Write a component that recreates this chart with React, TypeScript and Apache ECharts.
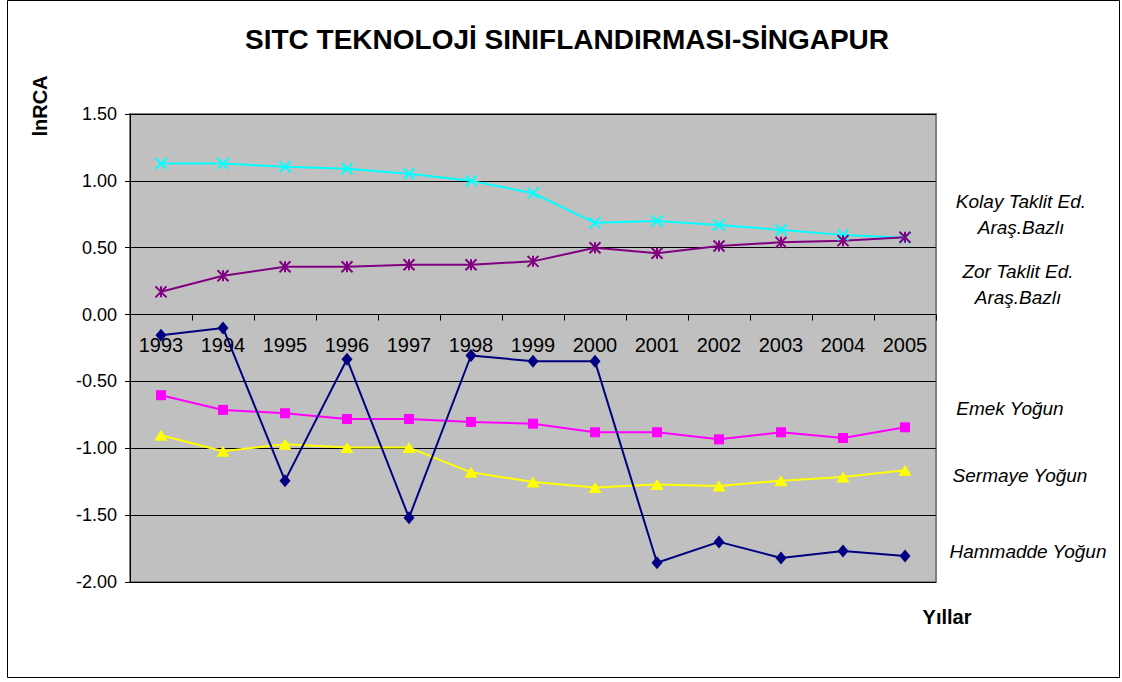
import React, { useEffect, useRef } from "react";
import * as echarts from "echarts";

const years = ["1993", "1994", "1995", "1996", "1997", "1998", "1999", "2000", "2001", "2002", "2003", "2004", "2005"];
const kolay = [1.13, 1.13, 1.105, 1.09, 1.053, 1.0, 0.908, 0.686, 0.7, 0.67, 0.633, 0.596, 0.575];
const zor = [0.17, 0.29, 0.358, 0.358, 0.373, 0.373, 0.398, 0.5, 0.458, 0.513, 0.54, 0.553, 0.578];
const emek = [-0.603, -0.713, -0.738, -0.781, -0.781, -0.803, -0.816, -0.88, -0.88, -0.933, -0.88, -0.923, -0.843];
const sermaye = [-0.903, -1.022, -0.97, -0.995, -0.995, -1.18, -1.252, -1.294, -1.27, -1.282, -1.242, -1.215, -1.165];
const hammadde = [-0.154, -0.1, -1.242, -0.334, -1.519, -0.306, -0.349, -0.35, -1.856, -1.7, -1.82, -1.769, -1.806];

const seriesNames = [
  "Kolay Taklit Ed. Araş.Bazlı",
  "Zor Taklit Ed. Araş.Bazlı",
  "Emek Yoğun",
  "Sermaye Yoğun",
  "Hammadde Yoğun",
];
const legendLabels = [
  "Kolay Taklit Ed.\nAraş.Bazlı",
  "Zor Taklit Ed.\nAraş.Bazlı",
  "Emek Yoğun",
  "Sermaye Yoğun",
  "Hammadde Yoğun",
];
const yTicks = { min: -2, max: 1.5, interval: 0.5 };
const titleText = "SITC TEKNOLOJİ SINIFLANDIRMASI-SİNGAPUR";
const yName = "lnRCA";
const xName = "Yıllar";

const FONT = "'Liberation Sans', Arial, Helvetica, sans-serif";

export default function App() {
  const ref = useRef<HTMLDivElement>(null);
  useEffect(() => {
    if (!ref.current) return;
    const chart = echarts.init(ref.current, null, { renderer: "svg" });
    const gridTop = 114;
    const gridBottom = 100;
    const chartH = 682;
    const plotH = chartH - gridTop - gridBottom;
    // move the category axis up to the zero line of the value axis
    const zeroOffset = -plotH * (0 - yTicks.min) / (yTicks.max - yTicks.min);
    const legendTops = [188, 258, 395, 462, 538];
    const legendCenters = [1021, 1018, 1010, 1020, 1028];
    const boxW = 180;
    const legends = seriesNames.map((name, i) => ({
      data: [name],
      left: legendCenters[i] - boxW / 2 - 5,
      top: legendTops[i],
      icon: "none",
      itemWidth: 0,
      itemHeight: 0,
      selectedMode: false,
      padding: 0,
      formatter: () =>
        legendLabels[i]
          .split("\n")
          .map((l) => `{c|${l}}`)
          .join("\n"),
      textStyle: {
        fontFamily: FONT,
        fontStyle: "italic",
        fontSize: 19,
        color: "#000",
        rich: {
          c: {
            width: boxW,
            align: "center",
            fontFamily: FONT,
            fontStyle: "italic",
            fontSize: 19,
            lineHeight: 26,
            color: "#000",
            height: 26,
          },
        },
      },
    }));
    const crossPath = "path://M0,0L10,10M10,0L0,10";
    const starPath = "path://M0,0L10,10M10,0L0,10M5,0L5,10";
    chart.setOption({
      animation: false,
      backgroundColor: "#fff",
      title: {
        text: titleText,
        left: 562,
        textAlign: "center",
        top: 20,
        textStyle: { fontFamily: FONT, fontWeight: "bold", fontSize: 28, color: "#000" },
      },
      legend: legends,
      grid: {
        left: 130,
        right: 186,
        top: gridTop,
        bottom: gridBottom,
        show: true,
        backgroundColor: "#C0C0C0",
        borderColor: "#808080",
        borderWidth: 2,
      },
      xAxis: {
        type: "category",
        data: years,
        boundaryGap: true,
        position: "bottom",
        offset: zeroOffset,
        axisLine: { onZero: false, lineStyle: { color: "#000", width: 1 } },
        axisTick: { show: true, length: 6, lineStyle: { color: "#000" } },
        axisLabel: { fontFamily: FONT, fontSize: 20, color: "#000", margin: 20, interval: 0 },
        splitLine: { show: false },
        z: 3,
      },
      yAxis: {
        type: "value",
        min: yTicks.min,
        max: yTicks.max,
        interval: yTicks.interval,
        axisLine: { show: true, lineStyle: { color: "#000", width: 1 } },
        axisTick: { show: true, length: 5, lineStyle: { color: "#000" } },
        axisLabel: {
          fontFamily: FONT,
          fontSize: 18,
          color: "#000",
          margin: 13,
          formatter: (v: number) => v.toFixed(2),
        },
        splitLine: { show: true, lineStyle: { color: "#000", width: 1 } },
      },
      graphic: [
        {
          type: "rect",
          shape: { x: 7.5, y: 0.5, width: 1112, height: 677 },
          style: { fill: "none", stroke: "#000", lineWidth: 1 },
          silent: true,
          z: -1,
        },
        {
          type: "text",
          x: 40,
          y: 106,
          rotation: Math.PI / 2,
          style: {
            text: yName,
            fontFamily: FONT,
            fontWeight: "bold",
            fontSize: 20,
            fill: "#000",
            align: "center",
            verticalAlign: "middle",
          },
        },
        {
          type: "text",
          x: 947,
          y: 617,
          style: {
            text: xName,
            fontFamily: FONT,
            fontWeight: "bold",
            fontSize: 20,
            fill: "#000",
            align: "center",
            verticalAlign: "middle",
          },
        },
      ],
      series: [
        {
          name: seriesNames[0],
          type: "line",
          data: kolay,
          symbol: crossPath,
          symbolSize: 11,
          lineStyle: { color: "#00FFFF", width: 2 },
          itemStyle: { color: "#00FFFF", borderColor: "#00FFFF", borderWidth: 2 },
        },
        {
          name: seriesNames[1],
          type: "line",
          data: zor,
          symbol: starPath,
          symbolSize: 11,
          lineStyle: { color: "#800080", width: 2 },
          itemStyle: { color: "#800080", borderColor: "#800080", borderWidth: 2 },
        },
        {
          name: seriesNames[2],
          type: "line",
          data: emek,
          symbol: "rect",
          symbolSize: 10,
          lineStyle: { color: "#FF00FF", width: 2 },
          itemStyle: { color: "#FF00FF", borderWidth: 0 },
        },
        {
          name: seriesNames[3],
          type: "line",
          data: sermaye,
          symbol: "triangle",
          symbolSize: [13, 11],
          lineStyle: { color: "#FFFF00", width: 2 },
          itemStyle: { color: "#FFFF00", borderWidth: 0 },
        },
        {
          name: seriesNames[4],
          type: "line",
          data: hammadde,
          symbol: "diamond",
          symbolSize: [11, 13],
          lineStyle: { color: "#000080", width: 2 },
          itemStyle: { color: "#000080", borderWidth: 0 },
        },
      ],
    });
    return () => chart.dispose();
  }, []);
  return (
    <div
      ref={ref}
      style={{ position: "fixed", left: 0, top: 0, width: 1122, height: 682, background: "#fff" }}
    />
  );
}
